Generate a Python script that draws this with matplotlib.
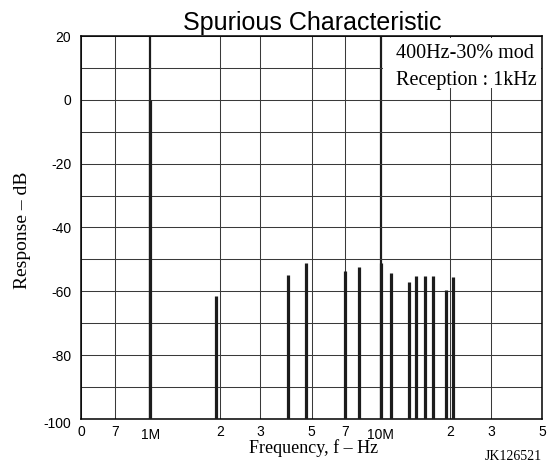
import matplotlib
matplotlib.use("Agg")
import matplotlib.pyplot as plt
import matplotlib.ticker as ticker
from matplotlib.patches import Rectangle
from matplotlib.transforms import ScaledTranslation

# spur frequencies (Hz) and response (dB)
spur_freq = [1.0e6, 1.92e6, 3.94e6, 4.72e6, 7.0e6, 8.0e6, 10.0e6,
             11.1e6, 13.2e6, 14.2e6, 15.6e6, 16.9e6, 19.2e6, 20.5e6]
spur_db = [0, -61.6, -55.0, -51.2, -53.6, -52.3, -51.2,
           -54.1, -57.2, -55.3, -55.1, -55.3, -59.6, -55.4]

x_major = [5e5, 7e5, 2e6, 3e6, 5e6, 7e6, 2e7, 3e7, 5e7]
x_major_labels = ["0", "7", "2", "3", "5", "7", "2", "3", "5"]
x_decades = [1e6, 1e7]
x_decade_labels = ["1M", "10M"]
y_ticks = [20, 0, -20, -40, -60, -80, -100]
y_tick_labels = ["20", "0", "-20", "-40", "-60", "-80", "-100"]

SANS = "Liberation Sans"
SERIF = "Liberation Serif"
GRID = "#3a3a3a"
INK = "#1c1c1c"

fig = plt.figure(figsize=(5.51, 4.63), dpi=100, facecolor="white")
ax = fig.add_axes([81 / 551, 44 / 463, 461 / 551, 383 / 463])

ax.set_xscale("log")
ax.set_xlim(5e5, 5e7)
ax.set_ylim(-100, 20)

ax.xaxis.set_major_locator(ticker.FixedLocator(x_major))
ax.xaxis.set_major_formatter(ticker.FixedFormatter(x_major_labels))
ax.xaxis.set_minor_locator(ticker.FixedLocator(x_decades))
ax.xaxis.set_minor_formatter(ticker.FixedFormatter(x_decade_labels))
ax.yaxis.set_major_locator(ticker.FixedLocator(y_ticks))
ax.yaxis.set_major_formatter(ticker.FixedFormatter(y_tick_labels))
ax.yaxis.set_minor_locator(ticker.MultipleLocator(10))

ax.tick_params(axis="both", which="both", length=0, labelsize=10)
ax.tick_params(axis="x", which="major", pad=4)
ax.tick_params(axis="x", which="minor", pad=6.5)
ax.tick_params(axis="y", pad=7)
for lab in ax.get_xticklabels(which="both") + ax.get_yticklabels():
    lab.set_fontfamily(SANS)

# nudge the -100 label down a bit like the original
for t in ax.yaxis.get_major_ticks():
    if t.get_loc() == -100:
        t.label1.set_transform(t.label1.get_transform()
                               + ScaledTranslation(0, -4 / 100, fig.dpi_scale_trans))

ax.set_axisbelow(True)
ax.grid(axis="x", which="major", color=GRID, linewidth=0.75)
ax.grid(axis="x", which="minor", color=INK, linewidth=1.6)
ax.grid(axis="y", which="both", color=GRID, linewidth=0.75)

for spine in ax.spines.values():
    spine.set_linewidth(1.1)
    spine.set_edgecolor("black")

# spurious responses
ax.vlines(spur_freq, -100, spur_db, color=INK, linewidth=2.3, zorder=3)

# condition box (covers the grid in the upper right)
ax.add_patch(Rectangle((0.655, 0.864), 0.343, 0.131, transform=ax.transAxes,
                       facecolor="white", edgecolor="none", zorder=1.5))
ax.text(0.683, 0.942, "400Hz-30% mod", transform=ax.transAxes, fontsize=14.5,
        family=SERIF, va="baseline", ha="left", zorder=4)
ax.text(0.683, 0.872, "Reception : 1kHz", transform=ax.transAxes, fontsize=14.5,
        family=SERIF, va="baseline", ha="left", zorder=4)

fig.text(0.567, 0.935, "Spurious Characteristic", fontsize=18, family=SANS,
         ha="center", va="baseline")
fig.text(0.569, 0.022, "Frequency, f – Hz", fontsize=13, family=SERIF,
         ha="center", va="baseline")
fig.text(0.040, 0.503, "Response – dB", fontsize=14, family=SERIF,
         rotation=90, ha="center", va="center")
fig.text(0.984, 0.0065, "JK126521", fontsize=10, family=SERIF,
         ha="right", va="baseline")

fig.savefig("out.png", dpi=100, facecolor="white")
plt.close(fig)
